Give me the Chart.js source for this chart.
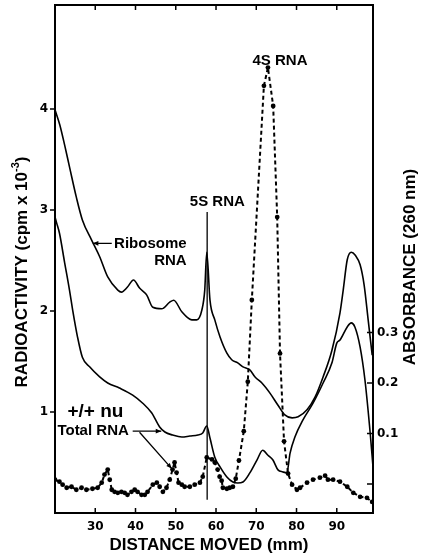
<!DOCTYPE html>
<html>
<head>
<meta charset="utf-8">
<script src="https://cdn.jsdelivr.net/npm/chart.js@4.4.1/dist/chart.umd.min.js"></script>
<style>
html,body{margin:0;padding:0;background:#fff;}
#wrap{width:422px;height:554px;position:relative;}
</style>
</head>
<body>
<div id="wrap"><canvas id="c"></canvas></div>
<script>
// ---- tick labels ----
const xTicks = [30, 40, 50, 60, 70, 80, 90];
const leftTicks = [1, 2, 3, 4];
const rightTicks = [0, 0.1, 0.2, 0.3];

// ---- Ribosome RNA absorbance (260 nm) ----
const riboX = [20.0,21.2,22.4,23.6,25.3,26.8,29.1,31.1,33.1,35.6,36.5,38.0,39.5,41.0,42.8,44.3,46.5,48.5,49.5,51.5,54.0,55.2,56.5,57.2,57.7,58.5,59.7,61.0,62.7,63.9,65.4,66.7,68.4,69.7,71.4,73.4,75.4,77.1,78.9,80.4,82.6,84.6,86.6,88.8,90.8,91.6,92.6,93.6,94.6,95.8,96.8,97.8,98.8];
const riboA = [0.741,0.711,0.671,0.628,0.568,0.523,0.483,0.450,0.410,0.384,0.380,0.390,0.404,0.388,0.374,0.350,0.347,0.360,0.364,0.341,0.325,0.325,0.345,0.384,0.459,0.364,0.325,0.291,0.259,0.246,0.240,0.232,0.226,0.212,0.200,0.180,0.156,0.137,0.131,0.133,0.147,0.172,0.212,0.265,0.339,0.384,0.444,0.459,0.453,0.434,0.394,0.325,0.255];

// ---- Total RNA absorbance (260 nm) ----
const totX = [20.0,20.4,21.1,22.4,23.6,24.4,25.6,26.8,28.6,31.1,33.1,36.0,39.3,41.8,44.0,46.0,47.3,49.2,51.5,53.5,55.5,56.7,57.7,58.5,59.7,61.0,62.7,64.2,65.4,66.7,68.4,70.2,71.6,72.9,74.1,75.4,76.6,77.6,78.4,79.6,81.6,84.1,86.6,88.8,90.0,90.8,92.6,93.6,94.5,95.8,97.0,98.3,99.0];
const totA = [0.529,0.517,0.497,0.438,0.384,0.344,0.291,0.251,0.232,0.212,0.200,0.190,0.176,0.160,0.141,0.113,0.103,0.097,0.093,0.095,0.097,0.101,0.115,0.091,0.053,0.034,0.014,0.004,0.002,0.004,0.022,0.048,0.067,0.057,0.048,0.028,0.024,0.022,0.061,0.093,0.127,0.160,0.200,0.240,0.279,0.285,0.311,0.319,0.311,0.271,0.206,0.101,0.034];

// ---- +/+ nu radioactivity (cpm x 10^-3) ----
const dotX = [20.0,21.1,21.9,22.9,24.1,25.3,26.6,27.8,29.3,30.6,31.6,32.3,33.1,33.6,34.1,34.8,35.6,36.5,37.3,38.0,39.0,39.8,40.5,41.5,42.3,43.0,44.3,45.3,46.0,46.8,47.7,48.5,49.2,49.7,50.2,50.7,51.5,52.2,53.5,54.7,56.0,56.7,57.7,59.0,59.7,60.4,60.9,61.4,61.7,62.7,63.4,64.2,64.9,65.7,66.9,67.9,68.9,71.9,72.9,74.2,75.2,75.9,76.9,77.9,78.9,80.1,80.9,82.6,84.1,85.8,87.1,87.8,89.1,90.8,92.6,94.1,95.8,97.5,98.8];
const dotV = [0.33,0.31,0.28,0.25,0.26,0.23,0.25,0.23,0.24,0.25,0.30,0.38,0.43,0.33,0.23,0.21,0.20,0.21,0.20,0.18,0.21,0.23,0.21,0.18,0.18,0.21,0.28,0.30,0.26,0.21,0.25,0.33,0.43,0.50,0.40,0.30,0.28,0.26,0.26,0.28,0.30,0.36,0.55,0.53,0.50,0.43,0.36,0.32,0.25,0.24,0.25,0.26,0.34,0.52,0.81,1.30,2.11,4.23,4.41,4.03,2.93,1.58,0.71,0.39,0.28,0.23,0.25,0.30,0.33,0.35,0.37,0.33,0.33,0.31,0.26,0.20,0.16,0.15,0.11];

const pts = (xs, ys) => xs.map((x, i) => ({x: x, y: ys[i]}));

const TF = '"Liberation Sans", Arial, sans-serif';

const annot = {
  id: 'annot',
  afterDatasetsDraw(chart) {
    const c = chart.ctx, a = chart.chartArea;
    const sx = chart.scales.x, sy = chart.scales.y, sy2 = chart.scales.y2;
    const X = v => sx.getPixelForValue(v), Y = v => sy.getPixelForValue(v);
    c.save();
    c.strokeStyle = '#000'; c.fillStyle = '#000';
    // frame
    c.lineWidth = 2;
    c.strokeRect(a.left, a.top, a.right - a.left, a.bottom - a.top);
    // tick marks
    c.lineWidth = 1.5;
    c.beginPath();
    xTicks.forEach(v => { const p = X(v);
      c.moveTo(p, a.bottom); c.lineTo(p, a.bottom - 5);
      c.moveTo(p, a.top); c.lineTo(p, a.top + 5); });
    leftTicks.forEach(v => { const p = Y(v); c.moveTo(a.left - 5, p); c.lineTo(a.left, p); });
    rightTicks.forEach(v => { const p = sy2.getPixelForValue(v); c.moveTo(a.right - 6, p); c.lineTo(a.right, p); });
    c.stroke();

    // annotation text
    c.textBaseline = 'middle';
    c.font = 'bold 15px ' + TF;
    c.textAlign = 'center'; c.fillText('4S RNA', X(75.9), Y(4.48));
    c.textAlign = 'left'; c.fillText('5S RNA', X(53.5), Y(3.08));
    c.textAlign = 'right'; c.fillText('Ribosome', X(52.7), Y(2.66)); c.fillText('RNA', X(52.7), Y(2.50));
    c.textAlign = 'left'; c.fillText('Total RNA', X(20.6), Y(0.81));
    c.font = 'bold 19px ' + TF; c.fillText('+/+ nu', X(23.1), Y(1.0));

    // leader lines
    c.lineWidth = 1.3;
    c.beginPath();
    c.moveTo(X(57.8), Y(2.98)); c.lineTo(X(57.8), Y(0.13));
    c.moveTo(X(34.1), Y(2.67)); c.lineTo(X(29.4), Y(2.67));
    c.moveTo(X(39.3), Y(0.81)); c.lineTo(X(46.4), Y(0.81));
    c.moveTo(X(41.0), Y(0.80)); c.lineTo(X(49.0), Y(0.44));
    c.stroke();
    const head = (x1, y1, x2, y2) => {
      const ang = Math.atan2(y2 - y1, x2 - x1), L = 6;
      c.beginPath(); c.moveTo(x2, y2);
      c.lineTo(x2 - L * Math.cos(ang - 0.4), y2 - L * Math.sin(ang - 0.4));
      c.lineTo(x2 - L * Math.cos(ang + 0.4), y2 - L * Math.sin(ang + 0.4));
      c.closePath(); c.fill();
    };
    head(X(34.1), Y(2.67), X(29.4), Y(2.67));
    head(X(39.3), Y(0.81), X(46.4), Y(0.81));
    head(X(41.0), Y(0.80), X(49.0), Y(0.44));

    // axis titles
    c.font = 'bold 17px ' + TF;
    c.textAlign = 'center';
    c.fillText('DISTANCE MOVED (mm)', 209, 545);
    // right title
    c.save(); c.translate(410, 267); c.rotate(-Math.PI / 2);
    c.fillText('ABSORBANCE (260 nm)', 0, 0); c.restore();
    // left title with superscript
    c.save(); c.translate(22, 272); c.rotate(-Math.PI / 2);
    const t1 = 'RADIOACTIVITY (cpm x 10', t2 = '-3', t3 = ')';
    c.font = 'bold 17px ' + TF; const w1 = c.measureText(t1).width, w3 = c.measureText(t3).width;
    c.font = 'bold 11px ' + TF; const w2 = c.measureText(t2).width;
    let s = -(w1 + w2 + w3) / 2;
    c.textAlign = 'left';
    c.font = 'bold 17px ' + TF; c.fillText(t1, s, 0); s += w1;
    c.font = 'bold 11px ' + TF; c.fillText(t2, s, -6); s += w2;
    c.font = 'bold 17px ' + TF; c.fillText(t3, s, 0);
    c.restore();
    c.restore();
  }
};

const tickFont = {family: '"DejaVu Sans", sans-serif', weight: 'bold', size: 12};
const noPad = s => { s.paddingTop = 0; s.paddingBottom = 0; s.paddingLeft = 0; s.paddingRight = 0; };
const noGrid = {display: false, drawTicks: false, tickLength: 0};

new Chart(document.getElementById('c'), {
  type: 'line',
  data: {
    datasets: [
      {label: 'Ribosome RNA', data: pts(riboX, riboA), yAxisID: 'y2', borderColor: '#000', borderWidth: 1.6, pointRadius: 0, cubicInterpolationMode: 'monotone', fill: false},
      {label: 'Total RNA', data: pts(totX, totA), yAxisID: 'y2', borderColor: '#000', borderWidth: 1.6, pointRadius: 0, cubicInterpolationMode: 'monotone', fill: false},
      {label: '+/+ nu', data: pts(dotX, dotV), yAxisID: 'y', borderColor: '#000', borderWidth: 2, borderDash: [4, 3], pointRadius: 2.4, pointBackgroundColor: '#000', pointBorderWidth: 0, tension: 0, fill: false}
    ]
  },
  options: {
    responsive: true, maintainAspectRatio: false, animation: false,
    layout: {padding: {top: 5, left: 0, right: 0, bottom: 0}},
    plugins: {legend: {display: false}, tooltip: {enabled: false}},
    scales: {
      x: {type: 'linear', min: 20, max: 99, grid: noGrid, border: {display: false},
        afterBuildTicks: s => { s.ticks = xTicks.map(v => ({value: v})); },
        afterFit: s => { s.height = 41; noPad(s); },
        ticks: {autoSkip: false, maxRotation: 0, padding: 7, color: '#000', font: tickFont}},
      y: {type: 'linear', position: 'left', min: 0, max: 5.03, grid: noGrid, border: {display: false},
        afterBuildTicks: s => { s.ticks = leftTicks.map(v => ({value: v})); },
        afterFit: s => { s.width = 55; noPad(s); },
        ticks: {autoSkip: false, padding: 7, color: '#000', font: tickFont}},
      y2: {type: 'linear', position: 'right', min: -0.0574, max: 0.9485, grid: noGrid, border: {display: false},
        afterBuildTicks: s => { s.ticks = rightTicks.map(v => ({value: v})); },
        afterFit: s => { s.width = 49; noPad(s); },
        ticks: {autoSkip: false, padding: 4, color: '#000', font: tickFont,
          callback: v => v === 0 ? '' : v.toFixed(1)}}
    }
  },
  plugins: [annot]
});
</script>
</body>
</html>
